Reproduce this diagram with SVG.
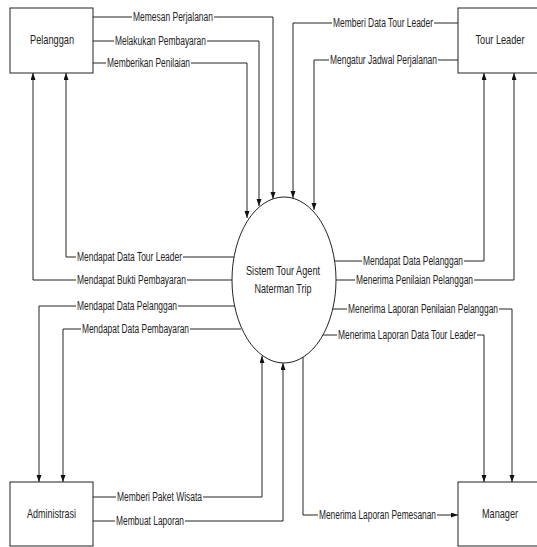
<svg xmlns="http://www.w3.org/2000/svg" width="537" height="547" viewBox="0 0 537 547">
<defs>
<marker id="arr" markerWidth="8" markerHeight="6" refX="7" refY="2.5" orient="auto" markerUnits="userSpaceOnUse"><path d="M0,0 L7,2.5 L0,5 z" fill="#111"/></marker>
<style>
.node{fill:#fff;stroke:#222;stroke-width:1}
.nt{font-family:"Liberation Sans",Arial,sans-serif;font-size:13px;fill:#222;text-anchor:middle}
.ca{fill:none;stroke:#222;stroke-width:1;marker-end:url(#arr)}
.bg{fill:#fff}
.lb{font-family:"Liberation Sans",Arial,sans-serif;font-size:12px;fill:#222}
</style>
</defs>
<rect width="537" height="547" fill="#fff"/>
<g id="connectors">
<path class="ca" d="M93,17 H273 V199"/>
<path class="ca" d="M93,41 H259 V206"/>
<path class="ca" d="M93,63 H247 V218"/>
<path class="ca" d="M458,23 H293 V198"/>
<path class="ca" d="M458,60 H314 V210"/>
<path class="ca" d="M234,257 H66 V73"/>
<path class="ca" d="M232,280 H33 V73"/>
<path class="ca" d="M235,306 H39 V482"/>
<path class="ca" d="M241,329 H63 V482"/>
<path class="ca" d="M334,261 H484 V73"/>
<path class="ca" d="M336,280 H514 V73"/>
<path class="ca" d="M333,309 H512 V482"/>
<path class="ca" d="M323,335 H484 V482"/>
<path class="ca" d="M93,497 H262 V356"/>
<path class="ca" d="M93,521 H283 V363"/>
<path class="ca" d="M303,357 V515 H458"/>
<g id="label-bg">
<rect class="bg" x="132" y="11" width="82" height="12"/>
<rect class="bg" x="114" y="35" width="93" height="12"/>
<rect class="bg" x="106" y="57" width="85" height="12"/>
<rect class="bg" x="332" y="17" width="102" height="12"/>
<rect class="bg" x="329" y="54" width="109" height="12"/>
<rect class="bg" x="76" y="251" width="107" height="12"/>
<rect class="bg" x="76" y="274" width="111" height="12"/>
<rect class="bg" x="76" y="300" width="102" height="12"/>
<rect class="bg" x="81" y="323" width="109" height="12"/>
<rect class="bg" x="362" y="255" width="102" height="12"/>
<rect class="bg" x="355" y="274" width="119" height="12"/>
<rect class="bg" x="347" y="303" width="152" height="12"/>
<rect class="bg" x="337" y="329" width="140" height="12"/>
<rect class="bg" x="116" y="491" width="87" height="12"/>
<rect class="bg" x="115" y="515" width="70" height="12"/>
<rect class="bg" x="318" y="509" width="119" height="12"/>
</g>
<g id="labels">
<text class="lb" x="133" y="21" textLength="80" lengthAdjust="spacingAndGlyphs">Memesan Perjalanan</text>
<text class="lb" x="115" y="45" textLength="91" lengthAdjust="spacingAndGlyphs">Melakukan Pembayaran</text>
<text class="lb" x="107" y="67" textLength="83" lengthAdjust="spacingAndGlyphs">Memberikan Penilaian</text>
<text class="lb" x="333" y="27" textLength="100" lengthAdjust="spacingAndGlyphs">Memberi Data Tour Leader</text>
<text class="lb" x="330" y="64" textLength="107" lengthAdjust="spacingAndGlyphs">Mengatur Jadwal Perjalanan</text>
<text class="lb" x="77" y="261" textLength="105" lengthAdjust="spacingAndGlyphs">Mendapat Data Tour Leader</text>
<text class="lb" x="77" y="284" textLength="109" lengthAdjust="spacingAndGlyphs">Mendapat Bukti Pembayaran</text>
<text class="lb" x="77" y="310" textLength="100" lengthAdjust="spacingAndGlyphs">Mendapat Data Pelanggan</text>
<text class="lb" x="82" y="333" textLength="107" lengthAdjust="spacingAndGlyphs">Mendapat Data Pembayaran</text>
<text class="lb" x="363" y="265" textLength="100" lengthAdjust="spacingAndGlyphs">Mendapat Data Pelanggan</text>
<text class="lb" x="356" y="284" textLength="117" lengthAdjust="spacingAndGlyphs">Menerima Penilaian Pelanggan</text>
<text class="lb" x="348" y="313" textLength="150" lengthAdjust="spacingAndGlyphs">Menerima Laporan Penilaian Pelanggan</text>
<text class="lb" x="338" y="339" textLength="138" lengthAdjust="spacingAndGlyphs">Menerima Laporan Data Tour Leader</text>
<text class="lb" x="117" y="501" textLength="85" lengthAdjust="spacingAndGlyphs">Memberi Paket Wisata</text>
<text class="lb" x="116" y="525" textLength="68" lengthAdjust="spacingAndGlyphs">Membuat Laporan</text>
<text class="lb" x="319" y="519" textLength="117" lengthAdjust="spacingAndGlyphs">Menerima Laporan Pemesanan</text>
</g>
</g>
<g id="pelanggan">
<rect class="node" x="10" y="8" width="83" height="65"/>
<text class="nt" x="52" y="43.5" textLength="44" lengthAdjust="spacingAndGlyphs">Pelanggan</text>
</g>
<g id="tour-leader">
<rect class="node" x="458" y="8" width="84" height="65"/>
<text class="nt" x="500" y="43.5" textLength="49" lengthAdjust="spacingAndGlyphs">Tour Leader</text>
</g>
<g id="administrasi">
<rect class="node" x="10" y="482" width="83" height="64"/>
<text class="nt" x="51.5" y="517.5" textLength="49" lengthAdjust="spacingAndGlyphs">Administrasi</text>
</g>
<g id="manager">
<rect class="node" x="458" y="482" width="84" height="64"/>
<text class="nt" x="500" y="517.5" textLength="36" lengthAdjust="spacingAndGlyphs">Manager</text>
</g>
<g id="sistem">
<ellipse class="node" cx="284" cy="280" rx="52" ry="83"/>
<text class="nt" x="283" y="274.5" textLength="74" lengthAdjust="spacingAndGlyphs">Sistem Tour Agent</text>
<text class="nt" x="283" y="292.5" textLength="57" lengthAdjust="spacingAndGlyphs">Naterman Trip</text>
</g>
</svg>
